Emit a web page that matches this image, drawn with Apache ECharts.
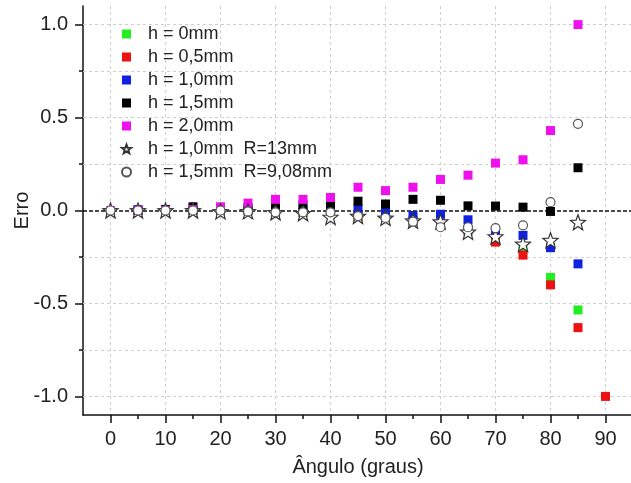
<!DOCTYPE html>
<html>
<head>
<meta charset="utf-8">
<script src="https://cdn.jsdelivr.net/npm/echarts@6/dist/echarts.min.js"></script>
<style>
  html, body { margin: 0; padding: 0; background: #fff; }
  #chart { width: 631px; height: 483px; }
</style>
</head>
<body>
<div id="chart"></div>
<script>
// angulos (graus)
const angles = [0, 5, 10, 15, 20, 25, 30, 35, 40, 45, 50, 55, 60, 65, 70, 75, 80, 85, 90];

// erro, uma lista por serie
const h0 = [0, 0, 0, 0, 0, 0, -0.005, -0.01, -0.02, -0.03, -0.04, -0.05, -0.065, -0.1, -0.14, -0.21, -0.36, -0.535];
const h05 = [0, 0, 0, 0, 0, 0, -0.005, -0.01, -0.02, -0.03, -0.04, -0.055, -0.07, -0.11, -0.17, -0.24, -0.4, -0.63, -1.0];
const h10 = [0, 0.005, 0.005, 0.005, 0.005, 0.005, 0.005, 0.005, 0.005, 0.01, -0.007, -0.027, -0.02, -0.05, -0.12, -0.134, -0.2, -0.287];
const h15 = [0, 0, 0.005, 0.02, 0.01, 0.015, 0.03, 0.03, 0.035, 0.05, 0.035, 0.06, 0.055, 0.025, 0.024, 0.018, -0.005, 0.23];
const h20 = [0, 0, 0, 0.005, 0.02, 0.04, 0.06, 0.06, 0.07, 0.125, 0.107, 0.125, 0.167, 0.19, 0.255, 0.273, 0.43, 1.0];
const h10R13 = [0, 0, 0, 0, -0.005, -0.005, -0.01, -0.015, -0.035, -0.03, -0.04, -0.055, -0.06, -0.115, -0.14, -0.18, -0.16, -0.063];
const h15R908 = [0, 0, 0, 0, 0, -0.005, -0.01, -0.01, -0.01, -0.03, -0.04, -0.06, -0.09, -0.09, -0.095, -0.08, 0.045, 0.466];

// eixos
const xMajor = [0, 10, 20, 30, 40, 50, 60, 70, 80, 90];
const xMinor = [5, 15, 25, 35, 45, 55, 65, 75, 85];
const yMajor = [-1, -0.5, 0, 0.5, 1];
const yMinor = [-0.75, -0.25, 0.25, 0.75];
const yGrid = [-1, -0.75, -0.5, -0.25, 0.25, 0.5, 0.75, 1];

const star = 'path://M0 -10 L2.47 -3.4 L9.51 -3.09 L3.99 1.3 L5.88 8.09 L0 4.2 L-5.88 8.09 L-3.99 1.3 L-9.51 -3.09 L-2.47 -3.4 Z';
const font = 'Liberation Sans, Arial, sans-serif';

function pts(vals) {
  return vals.map((v, i) => [angles[i], v]);
}

function sq(name, vals, color) {
  return {
    name, type: 'scatter', symbol: 'rect', symbolSize: 9,
    itemStyle: { color: color, opacity: 1 },
    data: pts(vals), z: 3
  };
}

const chart = echarts.init(document.getElementById('chart'));

chart.setOption({
  backgroundColor: '#fff',
  animation: false,
  textStyle: { fontFamily: font },
  grid: { left: 83, top: 6, width: 550, height: 409, outerBoundsMode: 'none', containLabel: false },
  legend: {
    orient: 'vertical', left: 116, top: 19,
    itemWidth: 9, itemHeight: 9, itemGap: 3,
    textStyle: { fontSize: 18, color: '#222', fontFamily: font, lineHeight: 20, padding: [0, 0, 0, 12] },
    data: ['h = 0mm', 'h = 0,5mm', 'h = 1,0mm', 'h = 1,5mm', 'h = 2,0mm',
      'h = 1,0mm  R=13mm', 'h = 1,5mm  R=9,08mm']
  },
  xAxis: [{
    type: 'value', min: -5, max: 95, interval: 5,
    name: 'Ângulo (graus)', nameLocation: 'middle', nameGap: 42, nameMoveOverlap: false,
    nameTextStyle: { fontSize: 20, color: '#222', fontFamily: font },
    axisLine: { onZero: false, lineStyle: { color: '#111', width: 1.5 } },
    axisTick: { customValues: xMajor, length: 8, lineStyle: { color: '#111', width: 1.5 } },
    axisLabel: { customValues: xMajor, fontSize: 20, color: '#222', margin: 14, fontFamily: font },
    splitLine: { show: true, lineStyle: { color: '#cfcfcf', type: [3, 3], width: 1 } }
  }, {
    type: 'value', min: -5, max: 95, position: 'bottom', offset: 0,
    axisLine: { show: false, onZero: false },
    axisTick: { customValues: xMinor, length: 4, lineStyle: { color: '#111', width: 1.5 } },
    axisLabel: { show: false },
    splitLine: { show: false }
  }],
  yAxis: [{
    type: 'value', min: -1.1, max: 1.1,
    name: 'Erro', nameLocation: 'middle', nameGap: 51, nameRotate: 90, nameMoveOverlap: false,
    nameTextStyle: { fontSize: 20, color: '#222', fontFamily: font },
    axisLine: { show: true, onZero: false, lineStyle: { color: '#111', width: 1.5 } },
    axisTick: { show: true, customValues: yMajor, length: 8, lineStyle: { color: '#111', width: 1.5 } },
    axisLabel: {
      customValues: yMajor, fontSize: 20, color: '#222', margin: 15, fontFamily: font,
      formatter: v => v.toFixed(1)
    },
    splitLine: { show: false }
  }, {
    type: 'value', min: -1.1, max: 1.1, position: 'left', offset: 0,
    axisLine: { show: false, onZero: false },
    axisTick: { show: true, customValues: yMinor, length: 4, lineStyle: { color: '#111', width: 1.5 } },
    axisLabel: { show: false },
    splitLine: { show: false }
  }],
  series: [
    {
      type: 'line', data: [], silent: true, z: 1,
      markLine: {
        silent: true, symbol: 'none', label: { show: false }, z: 1,
        lineStyle: { color: '#cfcfcf', type: [3, 3], width: 1 },
        data: yGrid.map(v => ({ yAxis: v }))
      }
    },
    {
      type: 'line', data: [], silent: true, z: 2,
      markLine: {
        silent: true, symbol: 'none', label: { show: false }, z: 2,
        lineStyle: { color: '#111', type: [4, 2], width: 1.5 },
        data: [{ yAxis: 0 }]
      }
    },
    sq('h = 0mm', h0, '#22ee22'),
    sq('h = 0,5mm', h05, '#ee1111'),
    sq('h = 1,0mm', h10, '#1020e0'),
    sq('h = 1,5mm', h15, '#000000'),
    sq('h = 2,0mm', h20, '#ee11ee'),
    {
      name: 'h = 1,0mm  R=13mm', type: 'scatter', symbol: star, symbolSize: 15,
      itemStyle: { color: '#fff', borderColor: '#333', borderWidth: 1.2, opacity: 1 },
      data: pts(h10R13), z: 4
    },
    {
      name: 'h = 1,5mm  R=9,08mm', type: 'scatter', symbol: 'circle', symbolSize: 9,
      itemStyle: { color: '#fff', borderColor: '#555', borderWidth: 1.2, opacity: 1 },
      data: pts(h15R908), z: 5
    }
  ]
});
</script>
</body>
</html>
